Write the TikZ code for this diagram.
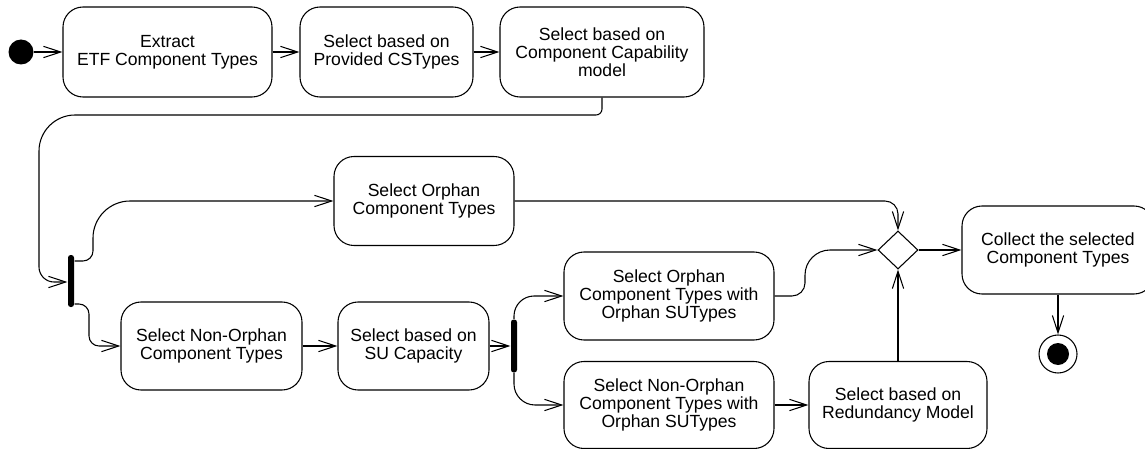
\documentclass[tikz,border=0pt]{standalone}
\usepackage{fontspec}
\setmainfont{Liberation Sans}
\usetikzlibrary{arrows.meta,shapes.geometric}
\begin{document}
\begin{tikzpicture}[x=0.75pt,y=-0.75pt,
  line width=0.8pt,
  act/.style 2 args={draw, rounded corners=15pt, align=center, inner sep=0pt,
    minimum width=#1*0.75pt, minimum height=#2*0.75pt,
    font=\fontsize{13.2pt}{13.6pt}\selectfont},
  flow/.style={draw, -{Straight Barb[length=13pt,width=8.5pt]}},
  syncbar/.style={fill=black, rounded corners=2pt, inner sep=0pt,
    minimum width=4.5pt, minimum height=#1*0.75pt},
  merge/.style={draw, diamond, inner sep=0pt, minimum width=30pt, minimum height=28.5pt},
  startdot/.style={circle, fill=black, inner sep=0pt, minimum size=18.75pt},
  endring/.style={circle, draw, inner sep=0pt, minimum size=28.5pt},
  enddot/.style={circle, fill=black, inner sep=0pt, minimum size=16.5pt}]
\useasboundingbox (0,0) rectangle (1145,449);

% top row
\node[startdot] (init) at (21,52) {};
\node[act={209}{90}] (extract) at (167.5,52) {Extract\\ETF Component Types};
\node[act={173}{90}] (provided) at (386.5,52) {Select based on\\Provided CSTypes};
\node[act={204}{90}] (capab) at (602,52) {Select based on\\Component Capability\\model};

% fork and its branches
\node[syncbar=52] (bar1) at (71,281) {};
\node[act={180}{89}] (orphan) at (424,201) {Select Orphan\\Component Types};
\node[act={181}{88}] (nonorph) at (211.5,346) {Select Non-Orphan\\Component Types};
\node[act={151}{88}] (sucap) at (413.5,346) {Select based on\\SU Capacity};
\node[syncbar=53] (bar2) at (514,346) {};
\node[act={210}{88}] (orphsu) at (669,296) {Select Orphan\\Component Types with\\Orphan SUTypes};
\node[act={210}{87}] (nonorphsu) at (669,405) {Select Non-Orphan\\Component Types with\\Orphan SUTypes};
\node[act={178}{87}] (redund) at (898,405) {Select based on\\Redundancy Model};

% merge and end
\node[merge] (dec) at (898,250) {};
\node[act={192}{88}] (collect) at (1058,250) {Collect the selected\\Component Types};
\node[endring] (final) at (1058,354) {};
\node[enddot] at (final.center) {};

% connectors
\draw[flow] (init) -- (extract);
\draw[flow] (extract) -- (provided);
\draw[flow] (provided) -- (capab);
\draw[flow] (capab.south) -- (602,109) .. controls +(0,3.3) and +(3.3,0) .. (596,115)
  -- (75,115) .. controls +(-19.8,0) and +(0,-19.8) .. (39,151)
  -- (39,267) .. controls +(0,8.25) and +(-8.25,0) .. (54,282)
  -- (bar1.west |- 0,282);
\draw[flow] (bar1.east |- 0,261) -- (83,261) .. controls +(5.5,0) and +(0,5.5) .. (93,251)
  -- (93,238) .. controls +(0,-20.35) and +(-20.35,0) .. (130,201) -- (orphan.west);
\draw[flow] (bar1.east |- 0,304) -- (79,304) .. controls +(5.5,0) and +(0,-5.5) .. (89,314)
  -- (89,336) .. controls +(0,5.5) and +(-5.5,0) .. (99,346) -- (nonorph.west);
\draw[flow] (nonorph) -- (sucap);
\draw[flow] (sucap.east) -- (bar2.west);
\draw[flow] (bar2.north) -- (514,316) .. controls +(0,-11) and +(-11,0) .. (534,296) -- (orphsu.west);
\draw[flow] (bar2.south) -- (514,384) .. controls +(0,11.55) and +(-11.55,0) .. (535,405) -- (nonorphsu.west);
\draw[flow] (orphsu.east) -- (792,296) .. controls +(7.15,0) and +(0,7.15) .. (805,283)
  -- (805,275) .. controls +(0,-13.75) and +(-13.75,0) .. (830,250) -- (dec.west);
\draw[flow] (orphan.east) -- (885,201) .. controls +(7.15,0) and +(0,-7.15) .. (898,214) -- (dec.north);
\draw[flow] (nonorphsu) -- (redund);
\draw[flow] (redund.north) -- (dec.south);
\draw[flow] (dec.east) -- (collect.west);
\draw[flow] (collect.south) -- (final.north);
\end{tikzpicture}
\end{document}
